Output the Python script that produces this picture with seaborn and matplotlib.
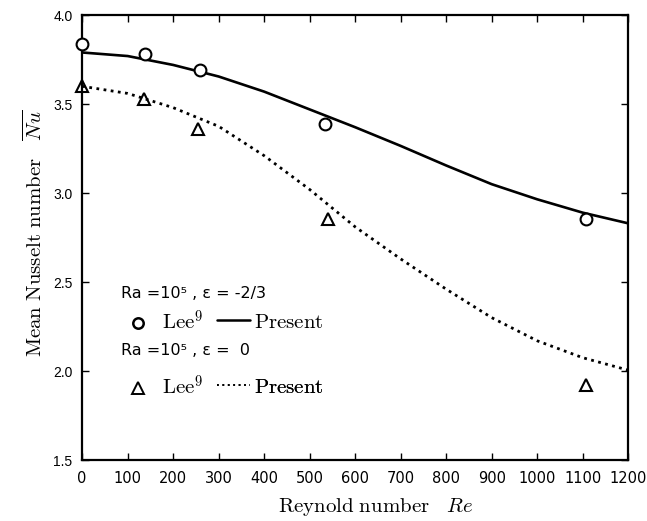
import matplotlib
matplotlib.use("Agg")
import matplotlib.pyplot as plt
from matplotlib.lines import Line2D
from matplotlib.font_manager import FontProperties
import seaborn as sns
import pandas as pd

# Experimental data (Lee)
lee_re_a = [0, 138, 259, 534, 1108]
lee_nu_a = [3.84, 3.78, 3.69, 3.39, 2.855]
lee_re_b = [0, 135, 255, 541, 1108]
lee_nu_b = [3.60, 3.53, 3.36, 2.855, 1.92]

# Present computations
pres_re = [0, 100, 200, 300, 400, 500, 600, 700, 800, 900, 1000, 1100, 1200]
pres_nu_a = [3.79, 3.77, 3.72, 3.655, 3.57, 3.47, 3.37, 3.265, 3.155, 3.05, 2.965, 2.89, 2.83]
pres_nu_b = [3.60, 3.56, 3.48, 3.375, 3.21, 3.02, 2.81, 2.63, 2.46, 2.30, 2.17, 2.075, 2.005]

x_ticks = [0, 100, 200, 300, 400, 500, 600, 700, 800, 900, 1000, 1100, 1200]
y_ticks = [1.5, 2.0, 2.5, 3.0, 3.5, 4.0]

sns.set_style("ticks")
plt.rcParams["font.family"] = ["Liberation Sans", "DejaVu Sans"]
plt.rcParams["mathtext.fontset"] = "cm"
plt.rcParams["text.color"] = "black"
plt.rcParams["axes.labelcolor"] = "black"
plt.rcParams["xtick.color"] = "black"
plt.rcParams["ytick.color"] = "black"
plt.rcParams["axes.edgecolor"] = "black"

fig = plt.figure(figsize=(6.47, 5.21), dpi=100)
ax = fig.add_axes([0.127, 0.117, 0.844, 0.854])

df_pa = pd.DataFrame({"Re": pres_re, "Nu": pres_nu_a})
df_pb = pd.DataFrame({"Re": pres_re, "Nu": pres_nu_b})
df_la = pd.DataFrame({"Re": lee_re_a, "Nu": lee_nu_a})
df_lb = pd.DataFrame({"Re": lee_re_b, "Nu": lee_nu_b})

sns.lineplot(data=df_pa, x="Re", y="Nu", ax=ax, color="black", lw=1.9, sort=True)
sns.lineplot(data=df_pb, x="Re", y="Nu", ax=ax, color="black", lw=2.0,
             linestyle=(0, (1, 1.6)), sort=True)
ax.plot(df_la["Re"], df_la["Nu"], ls="none", marker="o", ms=8.5, mfc="white",
        mec="black", mew=1.5, clip_on=False, zorder=5)
ax.plot(df_lb["Re"], df_lb["Nu"], ls="none", marker="^", ms=9, mfc="none",
        mec="black", mew=1.5, clip_on=False, zorder=5)

ax.set_xlim(0, 1200)
ax.set_ylim(1.5, 4.0)
ax.set_xticks(x_ticks)
ax.set_yticks(y_ticks)
ax.set_xticklabels([str(t) for t in x_ticks], family=["DejaVu Sans"], fontsize=10.5)
ax.set_yticklabels([f"{t:.1f}" for t in y_ticks], family=["Liberation Sans", "DejaVu Sans"],
                   fontsize=10)
ax.tick_params(direction="in", top=True, right=True, length=5, width=1)
ax.tick_params(axis="x", pad=8)
ax.tick_params(axis="y", pad=7)
for s in ax.spines.values():
    s.set_linewidth(1.6)
    s.set_visible(True)

ax.set_xlabel(r"$\mathrm{Reynold\ number}\ \ \ Re$", fontsize=15)
ax.set_ylabel(r"$\mathrm{Mean\ Nusselt\ number}\ \ \ \overline{Nu}$", fontsize=15)
ax.xaxis.label.set_va("center")
ax.yaxis.label.set_va("center")
ax.xaxis.set_label_coords(0.537, -0.106)
ax.yaxis.set_label_coords(-0.088, 0.51)

# Legend area
sans = ["DejaVu Sans"]
ax.text(0.071, 0.375, "Ra =10⁵ , ε = -2/3", transform=ax.transAxes, fontsize=11.5,
        family=sans, va="center", ha="left")
ax.text(0.071, 0.247, "Ra =10⁵ , ε =  0", transform=ax.transAxes, fontsize=11.5,
        family=sans, va="center", ha="left")

lp = FontProperties(size=15)

def add_leg(handle, label, x, y, hl, tp):
    lg = ax.legend([handle], [label], loc="center left", bbox_to_anchor=(x, y),
                   bbox_transform=ax.transAxes, frameon=False, borderpad=0,
                   borderaxespad=0, handlelength=hl, handletextpad=tp, prop=lp)
    ax.add_artist(lg)

h_circ = Line2D([], [], ls="none", marker="o", ms=7.5, mfc="white", mec="black", mew=1.8)
h_tri = Line2D([], [], ls="none", marker="^", ms=8, mfc="none", mec="black", mew=1.4)
h_sol = Line2D([], [], color="black", lw=1.8)
h_dot = Line2D([], [], color="black", lw=1.3, ls=(0, (1, 2)))

add_leg(h_circ, r"$\mathrm{Lee}^9$", 0.0835, 0.310, 1.0, 0.65)
add_leg(h_sol, r"$\mathrm{Present}$", 0.247, 0.310, 1.6, 0.15)
add_leg(h_tri, r"$\mathrm{Lee}^9$", 0.0835, 0.164, 1.0, 0.65)
add_leg(h_dot, r"$\mathrm{Present}$", 0.247, 0.164, 1.6, 0.15)

fig.savefig("out.png", dpi=100)
